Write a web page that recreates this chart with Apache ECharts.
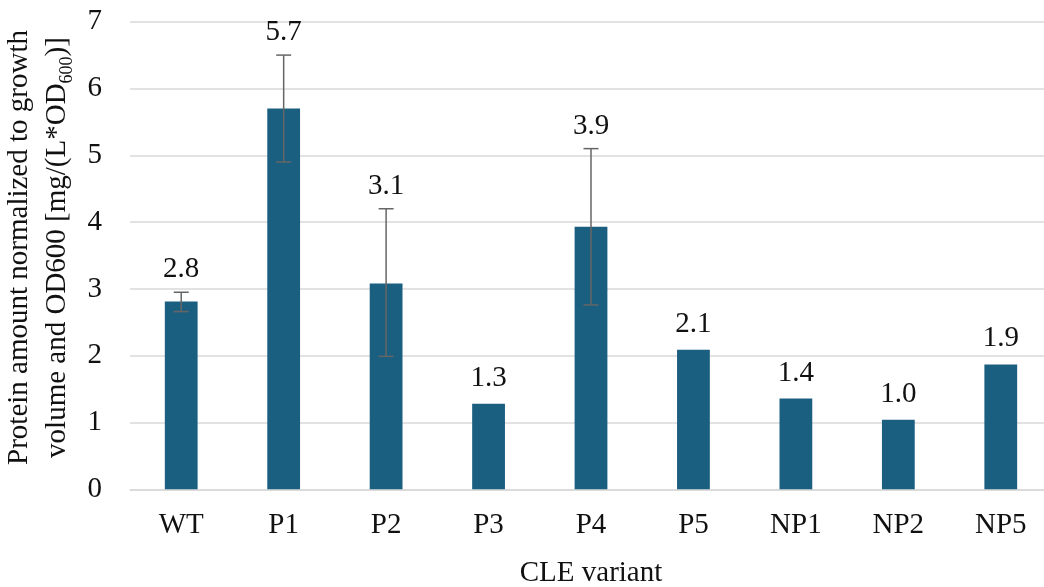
<!DOCTYPE html>
<html>
<head>
<meta charset="utf-8">
<script src="https://cdn.jsdelivr.net/npm/echarts@6/dist/echarts.min.js"></script>
<style>
  html, body { margin: 0; padding: 0; background: #fff; }
  #chart { width: 1044px; height: 587px; }
</style>
</head>
<body>
<div id="chart"></div>
<script>
const categories = ['WT', 'P1', 'P2', 'P3', 'P4', 'P5', 'NP1', 'NP2', 'NP5'];
const values = [2.81, 5.70, 3.08, 1.28, 3.93, 2.09, 1.36, 1.04, 1.87];
const errLow = [2.66, 4.90, 1.99, null, 2.76, null, null, null, null];
const errHigh = [2.95, 6.50, 4.20, null, 5.10, null, null, null, null];
const yTicks = [0, 1, 2, 3, 4, 5, 6, 7];

const font = "'Liberation Serif', 'Times New Roman', serif";
const textColor = '#111';

let errData = categories.map((c, i) => [i, errLow[i], errHigh[i], values[i]]);

let chart = echarts.init(document.getElementById('chart'));
let options = {
  animation: false,
  grid: {left: 130, top: 21.7, width: 922, bottom: 97.7, containLabel: false, outerBoundsMode: 'none'},
  xAxis: {
    type: 'category',
    data: categories,
    name: 'CLE variant',
    nameLocation: 'middle',
    nameGap: 70,
    nameTextStyle: {fontFamily: font, fontSize: 29, color: textColor},
    axisTick: {show: false},
    axisLine: {lineStyle: {color: '#d9d9d9', width: 1.5}},
    axisLabel: {fontFamily: font, fontSize: 29, color: textColor, margin: 22}
  },
  yAxis: {
    type: 'value',
    min: yTicks[0],
    max: yTicks[yTicks.length - 1],
    interval: 1,
    name: 'Protein amount normalized to growth\nvolume and OD600 [mg/(L*OD{sub|600})]',
    nameLocation: 'middle',
    nameRotate: 90,
    nameGap: 47,
    nameTextStyle: {
      fontFamily: font, fontSize: 29, color: textColor, lineHeight: 38,
      padding: [0, 0, 0, 16],
      rich: {sub: {fontFamily: font, fontSize: 18, color: textColor, lineHeight: 12, verticalAlign: 'bottom'}}
    },
    axisLine: {show: false},
    axisTick: {show: false},
    splitLine: {lineStyle: {color: '#d9d9d9', width: 1.5}},
    axisLabel: {fontFamily: font, fontSize: 29, color: textColor, margin: 28}
  },
  series: [
    {
      type: 'bar',
      data: values,
      barWidth: '32%',
      itemStyle: {color: '#1a5e80'}
    },
    {
      type: 'custom',
      data: errData,
      z: 5,
      renderItem: function (params, api) {
        let i = api.value(0);
        let lo = api.value(1);
        let hi = api.value(2);
        let v = api.value(3);
        let children = [];
        let top;
        if (errLow[i] != null && errHigh[i] != null) {
          let pHi = api.coord([i, hi]);
          let pLo = api.coord([i, lo]);
          let cap = 7.5;
          let st = {stroke: '#666', lineWidth: 1.5};
          children.push({type: 'line', shape: {x1: pHi[0], y1: pHi[1], x2: pLo[0], y2: pLo[1]}, style: st});
          children.push({type: 'line', shape: {x1: pHi[0] - cap, y1: pHi[1], x2: pHi[0] + cap, y2: pHi[1]}, style: st});
          children.push({type: 'line', shape: {x1: pLo[0] - cap, y1: pLo[1], x2: pLo[0] + cap, y2: pLo[1]}, style: st});
          top = pHi[1] - 8;
        } else {
          top = api.coord([i, v])[1] - 11;
        }
        let c = api.coord([i, v]);
        children.push({
          type: 'text',
          style: {
            x: c[0], y: top,
            text: v.toFixed(1),
            fontFamily: font, fontSize: 29, fill: textColor,
            align: 'center', verticalAlign: 'bottom'
          }
        });
        return {type: 'group', children: children};
      }
    }
  ]
};
chart.setOption(options);
</script>
</body>
</html>
